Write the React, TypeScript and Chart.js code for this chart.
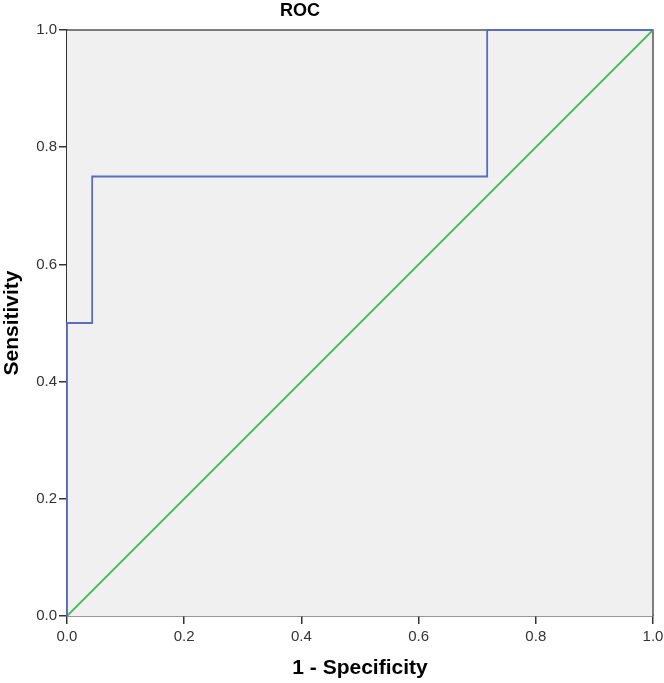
import React, { useEffect, useRef } from "react";
import { Chart, registerables } from "chart.js";

Chart.register(...registerables);

const rocX = [0, 0, 0.043, 0.043, 0.717, 0.717, 1];
const rocY = [0, 0.5, 0.5, 0.75, 0.75, 1, 1];
const refX = [0, 1];
const refY = [0, 1];
const tickValues = [0, 0.2, 0.4, 0.6, 0.8, 1.0];

const FONT = "'Liberation Sans', Arial, sans-serif";

const bgPlugin = {
  id: "bgFrame",
  beforeDatasetsDraw(chart: any) {
    const { ctx, chartArea: a } = chart;
    ctx.save();
    ctx.fillStyle = "#f0f0f0";
    ctx.fillRect(a.left, a.top, a.right - a.left, a.bottom - a.top);
    ctx.strokeStyle = "#555555";
    ctx.lineWidth = 1.5;
    ctx.beginPath();
    ctx.moveTo(a.left, a.top);
    ctx.lineTo(a.right, a.top);
    ctx.lineTo(a.right, a.bottom);
    ctx.stroke();
    ctx.restore();
  },
  afterDraw(chart: any) {
    const { ctx } = chart;
    ctx.save();
    ctx.font = `bold 18px ${FONT}`;
    ctx.fillStyle = "#000";
    ctx.textAlign = "center";
    ctx.textBaseline = "middle";
    ctx.fillText("ROC", 300, 11);
    ctx.restore();
  },
};

export default function App() {
  const ref = useRef<HTMLCanvasElement>(null);
  useEffect(() => {
    document.body.style.margin = "0";
    const c = ref.current!;
    const chart = new Chart(c, {
      type: "line",
      data: {
        datasets: [
          {
            data: rocX.map((x, i) => ({ x, y: rocY[i] })),
            borderColor: "#5a6cbc",
            borderWidth: 1.8,
            pointRadius: 0,
            fill: false,
            tension: 0,
            clip: false as any,
          },
          {
            data: refX.map((x, i) => ({ x, y: refY[i] })),
            borderColor: "#47bd5c",
            borderWidth: 1.8,
            pointRadius: 0,
            fill: false,
            tension: 0,
            clip: false as any,
          },
        ],
      },
      plugins: [bgPlugin],
      options: {
        animation: false,
        responsive: false,
        layout: { padding: { top: 30, right: 11, left: 0, bottom: 0 } },
        plugins: { legend: { display: false }, tooltip: { enabled: false }, title: { display: false } },
        scales: {
          x: {
            type: "linear",
            min: 0,
            max: 1,
            afterBuildTicks: (s: any) => {
              s.ticks = tickValues.map((v) => ({ value: v }));
            },
            afterFit: (s: any) => {
              s.height = 67;
              s.paddingRight = 0;
              s.paddingLeft = 0;
            },
            grid: { display: true, drawOnChartArea: false, drawTicks: true, tickLength: 8, color: "#333", lineWidth: 1.5 },
            border: { display: true, color: "#333", width: 1.5 },
            ticks: {
              color: "#333",
              font: { size: 15, family: FONT },
              padding: 4,
              maxRotation: 0,
              callback: (v: any) => Number(v).toFixed(1),
            },
            title: {
              display: true,
              text: "1 - Specificity",
              color: "#000",
              font: { size: 21, weight: "bold", family: FONT },
              padding: { top: 0, bottom: 2 },
            },
          },
          y: {
            type: "linear",
            min: 0,
            max: 1,
            afterBuildTicks: (s: any) => {
              s.ticks = tickValues.map((v) => ({ value: v }));
            },
            afterFit: (s: any) => {
              s.width = 67;
              s.paddingTop = 0;
              s.paddingBottom = 0;
            },
            grid: { display: true, drawOnChartArea: false, drawTicks: true, tickLength: 8, color: "#333", lineWidth: 1.5 },
            border: { display: true, color: "#333", width: 1.5 },
            ticks: {
              color: "#333",
              font: { size: 15, family: FONT },
              padding: 2,
              callback: (v: any) => Number(v).toFixed(1),
            },
            title: {
              display: true,
              text: "Sensitivity",
              color: "#000",
              font: { size: 21, weight: "bold", family: FONT },
              padding: { top: 0, bottom: 0 },
            },
          },
        },
      },
    });
    return () => chart.destroy();
  }, []);
  return <canvas ref={ref} width={664} height={683} style={{ display: "block" }} />;
}
